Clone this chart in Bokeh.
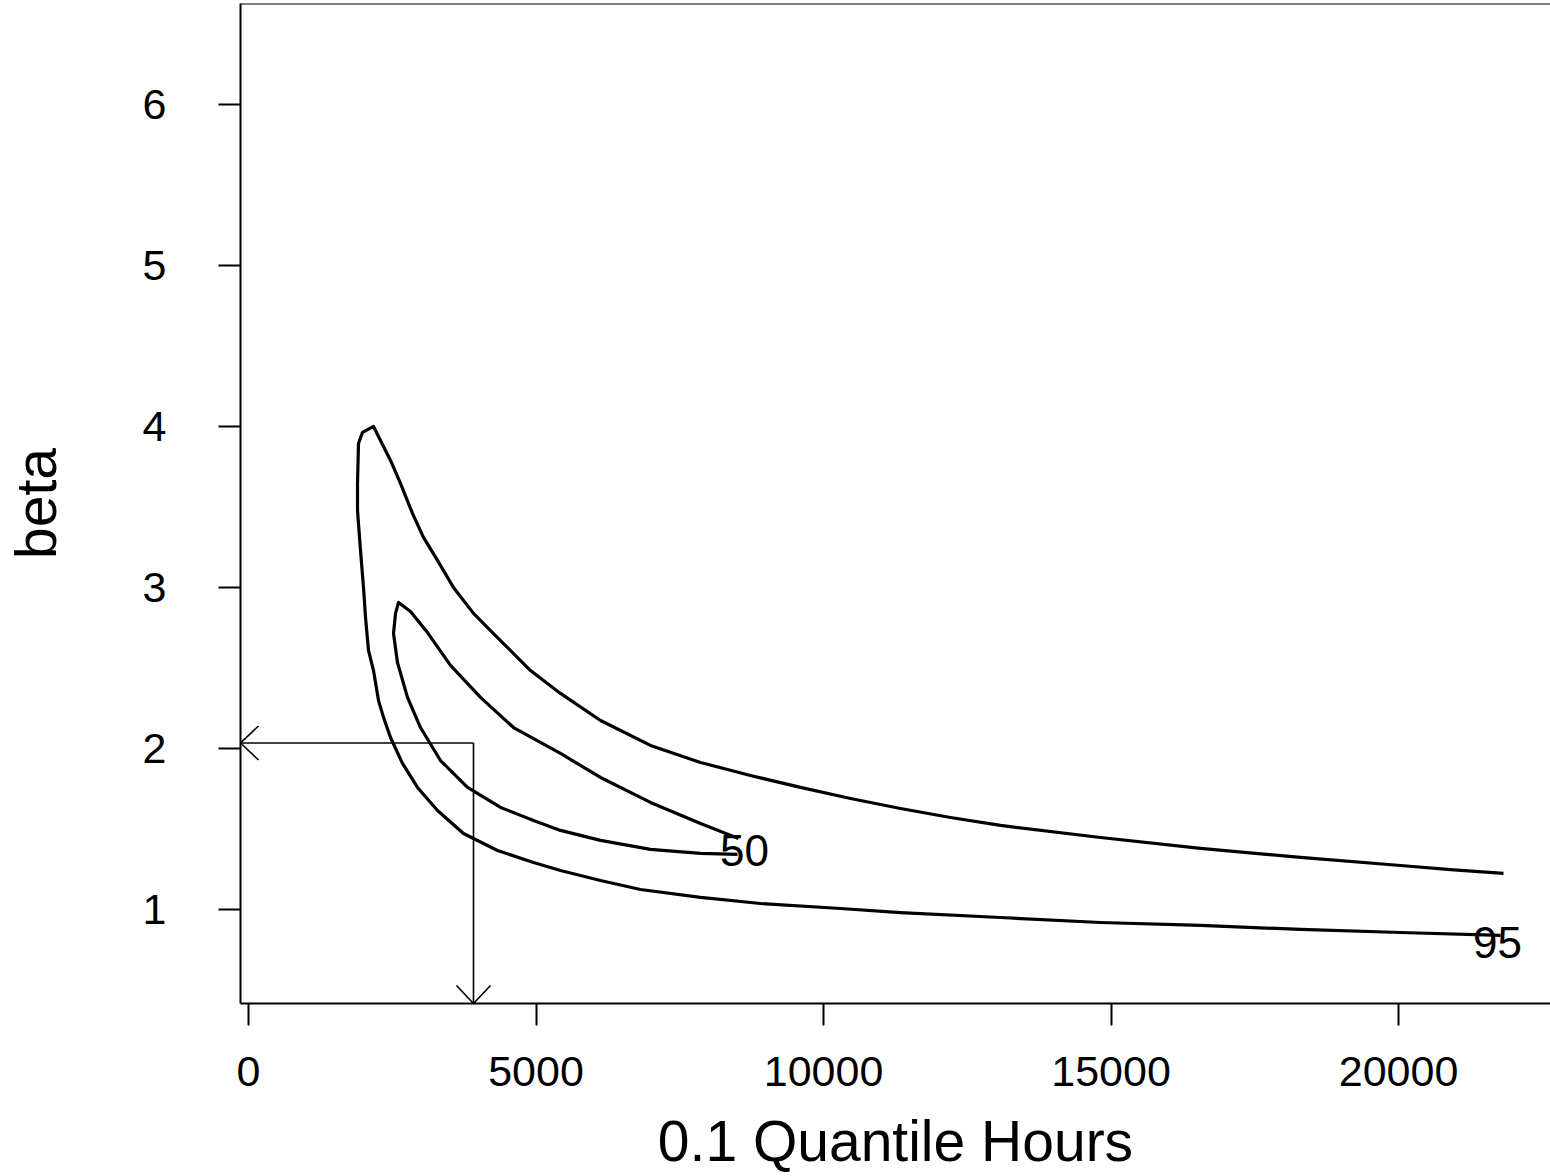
from bokeh.plotting import figure
from bokeh.models import Span, FixedTicker, Range1d
from bokeh.core.properties import value
from bokeh.embed import file_html
from bokeh.resources import INLINE

# ---- data ----
# 95% contour (open at the right edge of the grid)
outer_x = [21826, 20904, 20035, 18296, 16557, 14817, 13078, 12209, 11339, 10470,
           9600, 8730, 7861, 6991, 6122, 5426, 4904, 4330, 3913, 3565,
           3287, 3043, 2852, 2643, 2470, 2174, 1983, 1913, 1896, 1896,
           1948, 2000, 2035, 2087, 2174, 2261, 2348, 2470, 2678, 2939,
           3287, 3739, 4330, 4957, 5426, 6122, 6817, 7861, 8904, 10296,
           11339, 13078, 14817, 16557, 18296, 20035, 21774]
outer_y = [1.224, 1.248, 1.273, 1.323, 1.379, 1.447, 1.522, 1.571, 1.627, 1.689,
           1.758, 1.832, 1.913, 2.019, 2.174, 2.342, 2.484, 2.689, 2.839, 3.000,
           3.168, 3.311, 3.460, 3.646, 3.789, 4.000, 3.963, 3.894, 3.646, 3.478,
           3.230, 3.000, 2.814, 2.609, 2.484, 2.298, 2.193, 2.068, 1.907, 1.758,
           1.615, 1.472, 1.366, 1.292, 1.242, 1.180, 1.124, 1.075, 1.037, 1.006,
           0.981, 0.950, 0.919, 0.901, 0.876, 0.857, 0.839]
# 50% contour
inner_x = [8522, 7861, 6991, 6122, 5426, 4609, 4035, 3513, 3113, 2817,
           2609, 2557, 2522, 2591, 2765, 2991, 3339, 3809, 4383, 4957,
           5426, 6122, 6991, 7861, 8504]
inner_y = [1.441, 1.534, 1.665, 1.820, 1.969, 2.130, 2.317, 2.516, 2.720, 2.851,
           2.907, 2.839, 2.714, 2.534, 2.317, 2.130, 1.925, 1.758, 1.634, 1.553,
           1.491, 1.429, 1.373, 1.348, 1.342]
contour_levels = ["50", "95"]
level_x = [8626, 21722]
level_y = [1.366, 0.795]

# point estimate shown by the arrows
est_quantile = 3913
est_beta = 2.034

x_ticks = [0, 5000, 10000, 15000, 20000]
y_ticks = [1, 2, 3, 4, 5, 6]
x_start, x_end = -139, 22643
y_start, y_end = 0.416, 6.627

FONT = "Liberation Sans"
W, H = 1550, 1176
BL, BT, BB = 240, 3, 173
FW, FH = W - BL, H - BT - BB

p = figure(width=W, height=H, output_backend="svg", toolbar_location=None,
           x_range=Range1d(x_start, x_end), y_range=Range1d(y_start, y_end),
           min_border_left=BL, min_border_right=0, min_border_top=BT,
           min_border_bottom=BB)
p.outline_line_color = None
p.grid.visible = False

for ax in (p.xaxis[0], p.yaxis[0]):
    ax.axis_line_width = 2
    ax.axis_line_color = "black"
    ax.major_tick_line_width = 2
    ax.major_tick_line_color = "black"
    ax.major_tick_out = 22
    ax.major_tick_in = 0
    ax.minor_tick_line_color = None
    ax.major_label_text_font = FONT
    ax.major_label_text_font_size = "43px"
    ax.major_label_text_color = "black"
    ax.axis_label_text_font = FONT
    ax.axis_label_text_font_size = "57px"
    ax.axis_label_text_font_style = "normal"
    ax.axis_label_text_color = "black"

p.xaxis[0].ticker = FixedTicker(ticks=x_ticks)
p.yaxis[0].ticker = FixedTicker(ticks=y_ticks)
p.xaxis[0].major_label_standoff = 31
p.yaxis[0].major_label_standoff = 52
p.yaxis[0].major_label_orientation = "horizontal"
p.xaxis[0].axis_label = "0.1 Quantile Hours"
p.yaxis[0].axis_label = "beta"
p.xaxis[0].axis_label_standoff = 20
p.yaxis[0].axis_label_standoff = 72

# top frame line
p.add_layout(Span(location=y_end, dimension="width", line_color="black", line_width=2))

# contours
p.line(outer_x, outer_y, line_color="black", line_width=3.2, line_join="round")
p.line(inner_x, inner_y, line_color="black", line_width=3.2, line_join="round")
p.text(level_x, level_y, text=contour_levels, text_font=value(FONT),
       text_font_size="44px", text_align="center", text_baseline="middle",
       text_color="black")

# arrows from the estimate to the axes (open heads, sized in screen pixels)
ux = (x_end - x_start) / FW   # data units per pixel
uy = (y_end - y_start) / FH
along, spread = 18, 17
seg_x0 = [est_quantile, est_quantile,
          x_start, x_start,
          est_quantile, est_quantile]
seg_y0 = [est_beta, est_beta,
          est_beta, est_beta,
          y_start, y_start]
seg_x1 = [x_start, est_quantile,
          x_start + along * ux, x_start + along * ux,
          est_quantile - spread * ux, est_quantile + spread * ux]
seg_y1 = [est_beta, y_start,
          est_beta + spread * uy, est_beta - spread * uy,
          y_start + along * uy, y_start + along * uy]
p.segment(seg_x0, seg_y0, seg_x1, seg_y1, line_color="black", line_width=1.6)

open("out.html", "w").write(file_html(p, INLINE))
